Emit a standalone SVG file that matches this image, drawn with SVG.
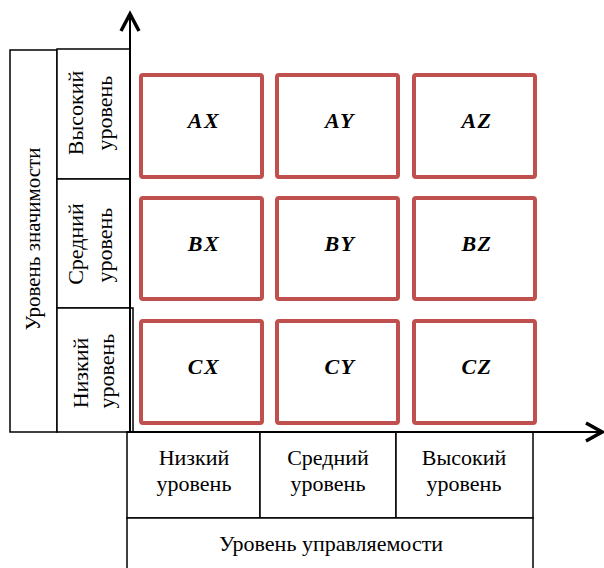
<svg xmlns="http://www.w3.org/2000/svg" width="604" height="568" viewBox="0 0 604 568">
<style>
.box{fill:#fff;stroke:#000;stroke-width:1.5}
.cell{fill:#fff;stroke:#C0504D;stroke-width:4}
.t{font-family:"Liberation Serif","Times New Roman",serif;font-size:22px;fill:#000;text-anchor:middle}
.o{font-size:21px}
.c{font-family:"Liberation Serif","Times New Roman",serif;font-size:22px;font-weight:bold;font-style:italic;fill:#000;text-anchor:middle;letter-spacing:1.5px}
.ax{fill:none;stroke:#000;stroke-width:2}
.ah{fill:none;stroke:#000;stroke-width:3.5;stroke-linecap:butt;stroke-linejoin:miter}
</style>
<rect width="604" height="568" fill="#fff"/>
<g id="label-y">
<rect class="box" x="10" y="50" width="47" height="382"/>
<text class="t o" transform="translate(40,239) rotate(-90)">Уровень значимости</text>
</g>
<g id="y-high">
<rect class="box" x="57" y="49" width="73" height="130"/>
<text class="t" transform="translate(83,113) rotate(-90)">Высокий</text>
<text class="t" transform="translate(112,113) rotate(-90)">уровень</text>
</g>
<g id="y-mid">
<rect class="box" x="57" y="179" width="73" height="129"/>
<text class="t" transform="translate(83,244) rotate(-90)">Средний</text>
<text class="t" transform="translate(112,245) rotate(-90)">уровень</text>
</g>
<g id="y-low">
<rect class="box" x="57" y="308" width="76" height="124"/>
<text class="t" transform="translate(88,373) rotate(-90)">Низкий</text>
<text class="t" transform="translate(114,371) rotate(-90)">уровень</text>
</g>
<g id="x-low">
<rect class="box" x="127" y="432" width="133" height="86"/>
<text class="t" x="194" y="465">Низкий</text>
<text class="t" x="194" y="491">уровень</text>
</g>
<g id="x-mid">
<rect class="box" x="260" y="432" width="136" height="86"/>
<text class="t" x="328" y="465">Средний</text>
<text class="t" x="328" y="491">уровень</text>
</g>
<g id="x-high">
<rect class="box" x="396" y="432" width="137" height="86"/>
<text class="t" x="464" y="465">Высокий</text>
<text class="t" x="464" y="491">уровень</text>
</g>
<g id="label-x">
<rect class="box" x="127" y="518" width="406" height="60"/>
<text class="t" x="331" y="551">Уровень управляемости</text>
</g>
<g id="AX"><rect class="cell" x="141" y="75" width="121" height="102" rx="2"/><text class="c" x="204" y="128">AX</text></g>
<g id="AY"><rect class="cell" x="277" y="75" width="121" height="102" rx="2"/><text class="c" x="340" y="128">AY</text></g>
<g id="AZ"><rect class="cell" x="414" y="75" width="121" height="102" rx="2"/><text class="c" x="477" y="128">AZ</text></g>
<g id="BX"><rect class="cell" x="141" y="198" width="121" height="101" rx="2"/><text class="c" x="204" y="251">BX</text></g>
<g id="BY"><rect class="cell" x="277" y="198" width="121" height="101" rx="2"/><text class="c" x="340" y="251">BY</text></g>
<g id="BZ"><rect class="cell" x="414" y="198" width="121" height="101" rx="2"/><text class="c" x="477" y="251">BZ</text></g>
<g id="CX"><rect class="cell" x="141" y="321" width="121" height="102" rx="2"/><text class="c" x="204" y="374">CX</text></g>
<g id="CY"><rect class="cell" x="277" y="321" width="121" height="102" rx="2"/><text class="c" x="340" y="374">CY</text></g>
<g id="CZ"><rect class="cell" x="414" y="321" width="121" height="102" rx="2"/><text class="c" x="477" y="374">CZ</text></g>
<g id="connectors">
<line class="ax" x1="130" y1="432" x2="130" y2="15"/>
<polyline class="ah" points="121,31 130,14 139,31"/>
<line class="ax" x1="127" y1="432" x2="601" y2="432"/>
<polyline class="ah" points="586,423 602,432 586,441"/>
</g>
</svg>
